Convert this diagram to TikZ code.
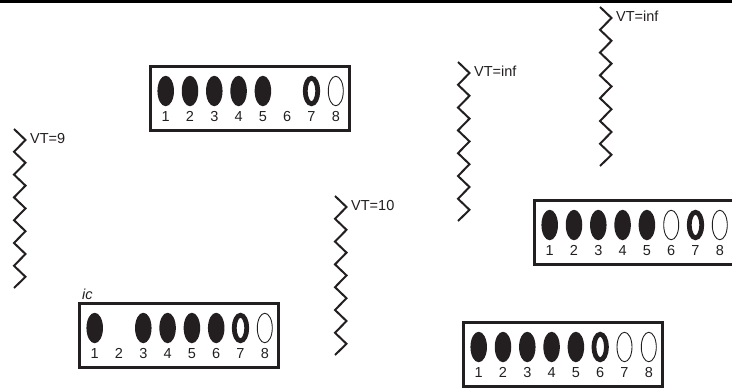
\documentclass[tikz,border=0pt]{standalone}
\usepackage{fontspec}
\setmainfont{Liberation Sans}
\usetikzlibrary{shapes.geometric}
\definecolor{inkdark}{HTML}{231F20}
\tikzset{
	boxframe/.style={draw=inkdark, line width=2.5pt, minimum width=199pt, minimum height=64pt, inner sep=0pt},
	slotfull/.style={ellipse, fill=inkdark, minimum width=16.5pt, minimum height=30.5pt, inner sep=0pt},
	slotheld/.style={ellipse, draw=inkdark, line width=4.8pt, minimum width=12.5pt, minimum height=25.5pt, inner sep=0pt},
	slotopen/.style={ellipse, draw=inkdark, line width=0.9pt, minimum width=15pt, minimum height=29.5pt, inner sep=0pt},
	digit/.style={text=inkdark, font=\fontsize{14.5}{16}\selectfont, anchor=base, inner sep=0pt},
	vtlabel/.style={text=inkdark, font=\fontsize{14.5}{16}\selectfont, anchor=west, inner sep=0pt},
	zigline/.style={draw=inkdark, line width=2pt, line join=miter},
	pics/statebox/.style={code={
		\node[boxframe] (frame) at (100,32.5) {};
		\foreach \n in {1,...,8}
			\node[digit] (num\n) at ({15.7+24.3*(\n-1)},55.5) {\n};
		\foreach \n/\kind in {#1}
			\node[\kind] (slot\n) at ({15.7+24.3*(\n-1)},25) {};
	}},
	pics/vtzig/.style={code={
		\draw[zigline] (0,0) -- (11.5,11)
			\foreach \i in {0,...,5} { -- (0,{22.8+22.8*\i}) -- (11.5,{33.8+22.8*\i}) }
			-- (0,159);
		\node[vtlabel] (label) at (16,9.5) {VT=#1};
	}}
}
\begin{document}
\begin{tikzpicture}[x=1pt,y=-1pt]
	\useasboundingbox (0,0) rectangle (732,391);
	\draw[line width=2.6pt] (0,1.3) -- (732,1.3);

	% slot boxes
	\pic (boxA) at (150,66) {statebox={1/slotfull,2/slotfull,3/slotfull,4/slotfull,5/slotfull,7/slotheld,8/slotopen}};
	\pic (boxB) at (79,303) {statebox={1/slotfull,3/slotfull,4/slotfull,5/slotfull,6/slotfull,7/slotheld,8/slotopen}};
	\pic (boxC) at (534,200) {statebox={1/slotfull,2/slotfull,3/slotfull,4/slotfull,5/slotfull,6/slotopen,7/slotheld,8/slotopen}};
	\pic (boxD) at (463,322) {statebox={1/slotfull,2/slotfull,3/slotfull,4/slotfull,5/slotfull,6/slotheld,7/slotopen,8/slotopen}};
	\node[vtlabel, anchor=south west, font=\fontsize{14.5}{16}\selectfont\itshape] (iclabel) at (82,300) {ic};

	% zigzags
	\pic (zigA) at (14,129) {vtzig=9};
	\pic (zigB) at (335,196) {vtzig=10};
	\pic (zigC) at (458,62) {vtzig=inf};
	\pic (zigD) at (600,7) {vtzig=inf};
\end{tikzpicture}
\end{document}
